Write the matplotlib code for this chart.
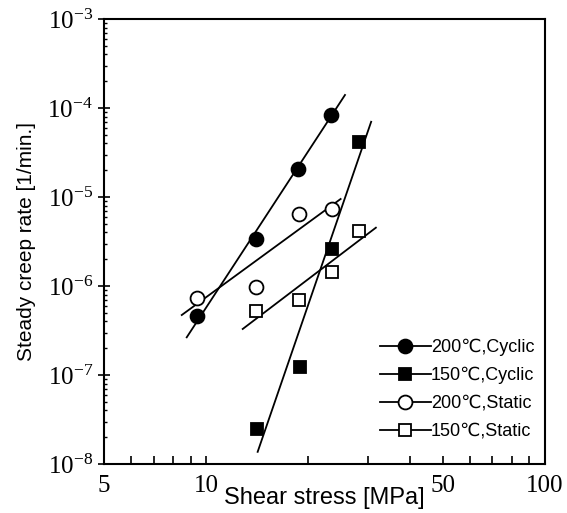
import matplotlib
matplotlib.use('Agg')
import matplotlib.pyplot as plt
from matplotlib.ticker import FixedLocator, NullFormatter, FixedFormatter

# data: shear stress [MPa], steady creep rate [1/min.]
cyc200_x = [9.4, 14.0, 18.7, 23.3]
cyc200_y = [4.6e-7, 3.4e-6, 2.05e-5, 8.3e-5]
cyc150_x = [14.1, 18.9, 23.5, 28.2]
cyc150_y = [2.5e-8, 1.24e-7, 2.6e-6, 4.1e-5]
sta200_x = [9.4, 14.0, 18.8, 23.6]
sta200_y = [7.4e-7, 9.8e-7, 6.4e-6, 7.3e-6]
sta150_x = [14.0, 18.8, 23.5, 28.2]
sta150_y = [5.3e-7, 7.0e-7, 1.45e-6, 4.1e-6]

# fitted line end points
fit_cyc200_x = [8.77, 25.7]
fit_cyc200_y = [2.65e-7, 1.40e-4]
fit_cyc150_x = [14.2, 30.7]
fit_cyc150_y = [1.37e-8, 7.0e-5]
fit_sta200_x = [8.48, 24.95]
fit_sta200_y = [4.72e-7, 9.5e-6]
fit_sta150_x = [12.83, 31.7]
fit_sta150_y = [3.29e-7, 4.52e-6]

labels = ['200\u2103,Cyclic', '150\u2103,Cyclic', '200\u2103,Static', '150\u2103,Static']
x_ticks = [5, 10, 50, 100]
y_ticks = [1e-8, 1e-7, 1e-6, 1e-5, 1e-4, 1e-3]
y_ticklabels = [r'$\mathregular{10^{-8}}$', r'$\mathregular{10^{-7}}$', r'$\mathregular{10^{-6}}$',
                r'$\mathregular{10^{-5}}$', r'$\mathregular{10^{-4}}$', r'$\mathregular{10^{-3}}$']

sans = ['Liberation Sans', 'DejaVu Sans']
serif = ['Liberation Serif', 'DejaVu Serif']

fig = plt.figure(figsize=(5.67, 5.13), dpi=100)
ax = fig.add_axes([0.1834, 0.0955, 0.7778, 0.8675])

# fit lines
for fx, fy in [(fit_cyc200_x, fit_cyc200_y), (fit_cyc150_x, fit_cyc150_y),
               (fit_sta200_x, fit_sta200_y), (fit_sta150_x, fit_sta150_y)]:
    ax.plot(fx, fy, color='black', lw=1.3)

# markers
ax.plot(cyc200_x, cyc200_y, 'o', ms=10, mfc='black', mec='black', mew=1.3)
ax.plot(cyc150_x, cyc150_y, 's', ms=9, mfc='black', mec='black', mew=1.3)
ax.plot(sta200_x, sta200_y, 'o', ms=10, mfc='white', mec='black', mew=1.3)
ax.plot(sta150_x, sta150_y, 's', ms=9, mfc='white', mec='black', mew=1.3)

# legend handles (line with marker in the middle)
h1, = ax.plot([], [], '-o', color='black', ms=10, mfc='black', lw=1.3, mew=1.3)
h2, = ax.plot([], [], '-s', color='black', ms=9, mfc='black', lw=1.3, mew=1.3)
h3, = ax.plot([], [], '-o', color='black', ms=10, mfc='white', lw=1.3, mew=1.3)
h4, = ax.plot([], [], '-s', color='black', ms=9, mfc='white', lw=1.3, mew=1.3)
leg = ax.legend([h1, h2, h3, h4], labels, loc='lower right', bbox_to_anchor=(1.0, 0.03),
                frameon=False, handlelength=2.8, handletextpad=0.0, labelspacing=0.6,
                borderaxespad=0.2, prop={'family': sans, 'size': 13})

ax.set_xscale('log')
ax.set_yscale('log')
ax.set_xlim(5, 100)
ax.set_ylim(1e-8, 1e-3)

ax.xaxis.set_major_locator(FixedLocator(x_ticks))
ax.xaxis.set_major_formatter(FixedFormatter([str(v) for v in x_ticks]))
ax.xaxis.set_minor_locator(FixedLocator([6, 7, 8, 9, 20, 30, 40, 60, 70, 80, 90]))
ax.xaxis.set_minor_formatter(NullFormatter())
ax.yaxis.set_major_locator(FixedLocator(y_ticks))
ax.yaxis.set_major_formatter(FixedFormatter(y_ticklabels))
ax.yaxis.set_minor_locator(FixedLocator([m * 10.0 ** e for e in range(-8, -3) for m in range(2, 10)]))
ax.yaxis.set_minor_formatter(NullFormatter())

ax.tick_params(axis='x', which='both', direction='in', length=6, width=1.2, pad=8,
               top=False, labelsize=18)
ax.tick_params(axis='y', which='major', direction='inout', length=8, width=1.2, pad=4,
               right=False, labelsize=18)
ax.tick_params(axis='y', which='minor', direction='in', length=2, width=1.0, right=False)
for lbl in ax.get_xticklabels() + ax.get_yticklabels():
    lbl.set_family(serif)

for s in ax.spines.values():
    s.set_linewidth(1.5)

ax.set_xlabel('Shear stress [MPa]', family=sans, fontsize=17, labelpad=-7)
ax.set_ylabel('Steady creep rate [1/min.]', family=sans, fontsize=15, labelpad=8)

fig.savefig('out.png', dpi=100)
